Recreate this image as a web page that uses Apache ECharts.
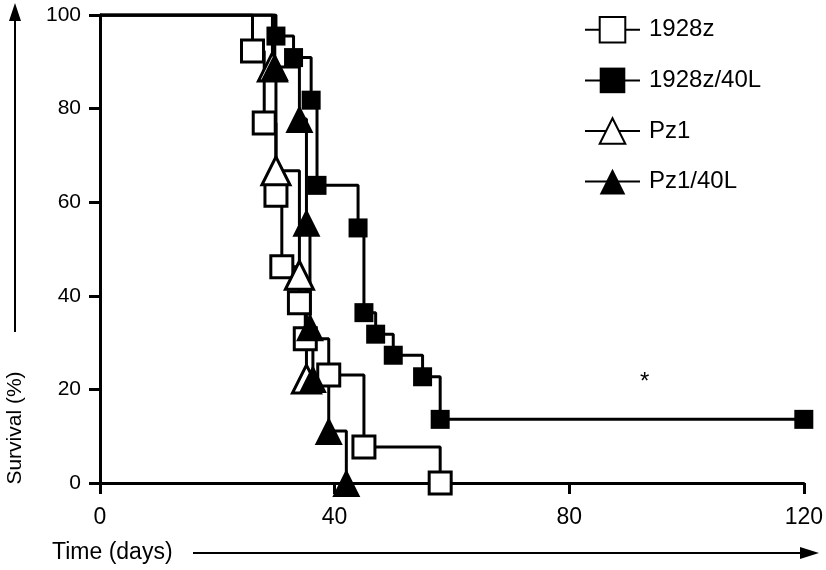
<!DOCTYPE html>
<html>
<head>
<meta charset="utf-8">
<script src="https://cdn.jsdelivr.net/npm/echarts@6/dist/echarts.min.js"></script>
<style>
  html, body { margin: 0; padding: 0; background: #fff; }
  #chart { width: 826px; height: 570px; }
</style>
</head>
<body>
<div id="chart"></div>
<script>
// survival curves, [day, survival %]
const car1928z = [[0, 100], [26, 92.3], [28, 76.9], [30, 61.5], [31, 46.2], [34, 38.5], [35, 30.8], [39, 23.1], [45, 7.7], [58, 0]]
const car1928z40L = [[0, 100], [30, 95.5], [33, 90.9], [36, 81.8], [37, 63.6], [44, 54.5], [45, 36.4], [47, 31.8], [50, 27.3], [55, 22.7], [58, 13.6], [120, 13.6]]
const pz1 = [[0, 100], [29.4, 88.9], [30, 66.7], [34, 44.4], [35.2, 22.2]]
const pz140L = [[0, 100], [29.8, 88.9], [34, 77.8], [35.2, 55.6], [35.8, 33.3], [36.3, 22.2], [39, 11.1], [42, 0]]

const xTicks = [0, 40, 80, 120]
const yTicks = [0, 20, 40, 60, 80, 100]
const seriesNames = ['1928z', '1928z/40L', 'Pz1', 'Pz1/40L']

const FONT = 'Liberation Sans, Arial, Helvetica, sans-serif'

function toData(arr) {
  // no symbol at the starting point
  return arr.map((p, i) => i === 0 ? {value: p, symbol: 'none'} : {value: p})
}

function makeSeries(name, arr, symbol, size, filled) {
  return {
    name: name,
    type: 'line',
    step: 'end',
    data: toData(arr),
    symbol: symbol,
    symbolSize: size,
    showAllSymbol: true,
    lineStyle: {color: '#000', width: 3},
    itemStyle: {color: filled ? '#000' : '#fff', borderColor: '#000', borderWidth: filled ? 0 : 3, opacity: 1},
    emphasis: {disabled: true},
    animation: false
  }
}

const chart = echarts.init(document.getElementById('chart'))
chart.setOption({
  backgroundColor: '#fff',
  animation: false,
  grid: {left: 100, right: 21, top: 15, bottom: 87, containLabel: false},
  legend: {
    orient: 'vertical',
    left: 579,
    top: 11,
    itemGap: 24,
    itemWidth: 55,
    itemHeight: 32,
    data: seriesNames,
    textStyle: {fontFamily: FONT, fontSize: 24, color: '#000', padding: [0, 0, 0, 4]}
  },
  xAxis: {
    type: 'value',
    min: 0,
    max: 120,
    interval: 40,
    splitLine: {show: false},
    axisLine: {onZero: false, lineStyle: {color: '#000', width: 3}},
    axisTick: {length: 11, lineStyle: {color: '#000', width: 3}},
    axisLabel: {fontFamily: FONT, fontSize: 23, color: '#000', margin: 23,
      formatter: v => xTicks.includes(v) ? String(v) : ''}
  },
  yAxis: {
    type: 'value',
    min: 0,
    max: 100,
    interval: 20,
    splitLine: {show: false},
    axisLine: {show: true, lineStyle: {color: '#000', width: 3}},
    axisTick: {show: true, length: 11, lineStyle: {color: '#000', width: 3}},
    axisLabel: {fontFamily: FONT, fontSize: 21, color: '#000', margin: 19,
      formatter: v => yTicks.includes(v) ? String(v) : ''}
  },
  series: [
    makeSeries('1928z', car1928z, 'rect', 22, false),
    makeSeries('1928z/40L', car1928z40L, 'rect', 19, true),
    makeSeries('Pz1', pz1, 'triangle', 28, false),
    makeSeries('Pz1/40L', pz140L, 'triangle', 28, true)
  ],
  graphic: [
    {type: 'text', left: 640, top: 370, style: {text: '*', fontFamily: FONT, fontSize: 24, fill: '#000'}},
    // y axis title with arrow
    {type: 'text', x: 15, y: 428, rotation: Math.PI / 2,
      style: {text: 'Survival (%)', fontFamily: FONT, fontSize: 21, fill: '#000', align: 'center', verticalAlign: 'middle'}},
    {type: 'line', shape: {x1: 15, y1: 332, x2: 15, y2: 20}, style: {stroke: '#000', lineWidth: 2}},
    {type: 'polygon', shape: {points: [[15, 3], [9, 21], [21, 21]]}, style: {fill: '#000'}},
    // x axis title with arrow
    {type: 'text', x: 52, y: 553, style: {text: 'Time (days)', fontFamily: FONT, fontSize: 23, fill: '#000', verticalAlign: 'middle'}},
    {type: 'line', shape: {x1: 193, y1: 553, x2: 802, y2: 553}, style: {stroke: '#000', lineWidth: 2}},
    {type: 'polygon', shape: {points: [[819, 553], [800, 547], [800, 559]]}, style: {fill: '#000'}}
  ]
})
</script>
</body>
</html>
